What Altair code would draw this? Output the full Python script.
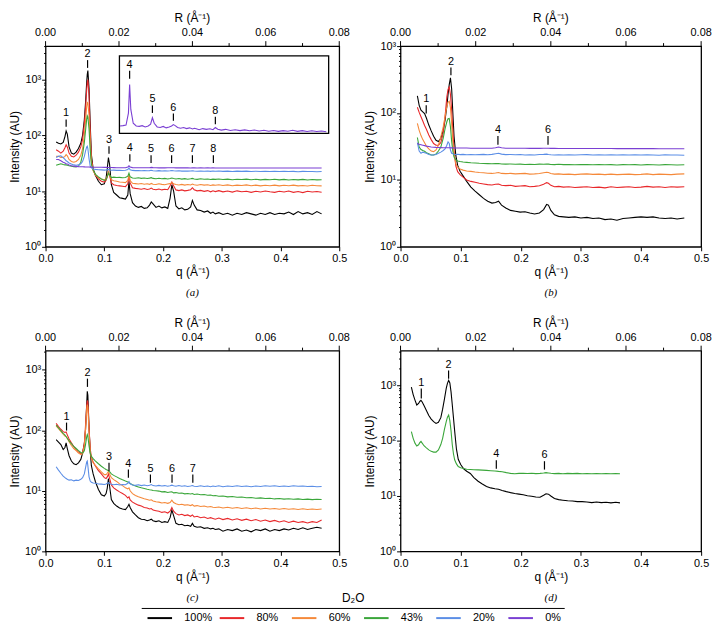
import math
import altair as alt
import pandas as pd

# ---------------------------------------------------------------- categories / style
SERIES = ["100%", "80%", "60%", "43%", "20%", "0%"]
COLORS = ["#000000", "#e8282b", "#f5893a", "#3aa63a", "#5b8ee6", "#7a3fd3"]

Q_TICKS = [0.0, 0.1, 0.2, 0.3, 0.4, 0.5]
R_TICKS = [0.0, 0.01, 0.02, 0.03, 0.04, 0.05, 0.06, 0.07, 0.08]
Y_TICKS = [1, 2, 3, 4, 5, 6, 7, 8, 9, 10, 20, 30, 40, 50, 60, 70, 80, 90,
           100, 200, 300, 400, 500, 600, 700, 800, 900, 1000, 2000, 3000, 4000]

# ---------------------------------------------------------------- panels (a) and (c): q grid
q_ac = [0.018, 0.022, 0.026, 0.030, 0.033, 0.035, 0.037, 0.040, 0.044, 0.048,
        0.052, 0.056, 0.060, 0.063, 0.066, 0.068, 0.070, 0.071, 0.072, 0.074,
        0.076, 0.078, 0.081, 0.085, 0.090, 0.095, 0.100, 0.103, 0.105, 0.107,
        0.109, 0.112, 0.116, 0.121, 0.126, 0.131, 0.136, 0.140, 0.142, 0.144,
        0.148, 0.153, 0.158, 0.163, 0.168, 0.173, 0.177, 0.180, 0.183, 0.188,
        0.193, 0.198, 0.203, 0.208, 0.212, 0.215, 0.218, 0.222, 0.227, 0.232,
        0.237, 0.242, 0.247, 0.250, 0.253, 0.258, 0.264, 0.270, 0.276, 0.281,
        0.285, 0.289, 0.295, 0.302, 0.310, 0.318, 0.326, 0.334, 0.342, 0.350,
        0.358, 0.366, 0.374, 0.382, 0.390, 0.398, 0.406, 0.414, 0.422, 0.430,
        0.438, 0.446, 0.454, 0.462, 0.470]

a_100 = [76, 72, 70, 75, 95, 120, 105, 62, 48, 46,
         50, 58, 72, 100, 190, 380, 900, 1250, 1450, 700,
         160, 45, 25, 19, 15, 13, 13.5, 17, 25, 40,
         30, 13, 9.5, 8.5, 7.6, 7.4, 7.2, 8.5, 15, 9,
         6.2, 5.4, 5.1, 5.3, 4.9, 5.0, 5.6, 6.4, 5.9, 5.1,
         5.4, 5.0, 5.2, 4.9, 7.5, 13, 10, 5.4, 4.8, 5.0,
         4.6, 4.7, 5.2, 6.8, 5.6, 4.6, 4.5, 4.2, 4.4, 4.0,
         4.2, 3.9, 4.1, 3.8, 4.0, 3.7, 4.0, 3.8, 4.1, 3.9,
         3.7, 4.0, 3.8, 4.1, 3.8, 4.0, 3.9, 4.2, 3.8, 4.3,
         3.9, 4.1, 3.8, 4.3, 3.9]
a_80 = [55, 52, 48, 52, 60, 68, 62, 48, 42, 41,
        44, 50, 62, 85, 160, 310, 650, 900, 1000, 520,
        120, 38, 24, 19, 16.5, 15, 14.5, 15.5, 18, 22,
        19, 14, 13, 12.6, 12.4, 12.2, 12.0, 13.5, 19, 14,
        11.5, 11.2, 11.0, 10.8, 11.1, 10.7, 10.9, 11.3, 10.8, 10.6,
        10.9, 10.5, 10.8, 10.6, 12.5, 14.5, 12.5, 10.5, 10.2, 10.5,
        10.1, 10.3, 10.6, 11.5, 10.6, 10.1, 10.3, 9.9, 10.2, 9.7,
        10.1, 9.8, 10.2, 9.7, 10.0, 9.6, 10.1, 9.7, 9.9, 9.5,
        9.9, 9.6, 10.0, 9.7, 9.5, 9.9, 9.6, 10.0, 9.5, 9.8,
        9.4, 9.9, 9.6, 9.8, 9.5]
a_60 = [42, 42, 40, 40, 42, 45, 43, 37, 34, 33,
        34, 37, 44, 58, 100, 180, 330, 390, 380, 230,
        75, 34, 23, 19.5, 17.5, 16.5, 16, 16.5, 18.5, 22,
        19.5, 16, 15.3, 15, 14.6, 14.4, 14.2, 15.5, 20, 15.5,
        13.8, 13.6, 13.4, 13.7, 13.3, 13.5, 13.2, 13.7, 13.3, 13.1,
        13.5, 13.2, 13.0, 13.4, 13.6, 14.2, 13.5, 13.1, 12.9, 13.2,
        12.8, 13.1, 12.9, 13.4, 13.0, 12.7, 13.1, 12.8, 13.0, 12.6,
        12.9, 12.7, 13.0, 12.6, 12.9, 12.5, 12.8, 12.6, 12.9, 12.5,
        12.8, 12.4, 12.7, 12.5, 12.8, 12.4, 12.7, 12.5, 12.8, 12.4,
        12.6, 12.3, 12.7, 12.5, 12.4]
a_43 = [29, 30, 31, 30, 29.5, 29.5, 29, 28.5, 28, 27.5,
        27, 28, 33, 45, 75, 120, 195, 225, 215, 130,
        55, 30, 24, 20, 18, 16.5, 15.5, 16, 18, 21,
        19.5, 17.5, 17.8, 17.5, 17.6, 17.3, 17.5, 18.5, 21, 18,
        17.2, 17.0, 17.3, 16.9, 17.2, 16.8, 17.1, 17.4, 16.9, 16.7,
        17.0, 16.6, 16.9, 16.5, 16.8, 17.2, 16.8, 16.5, 16.8, 16.4,
        16.7, 16.3, 16.6, 16.9, 16.5, 16.2, 16.6, 16.3, 16.5, 16.1,
        16.4, 16.2, 16.5, 16.1, 16.4, 16.0, 16.3, 16.1, 16.4, 16.0,
        16.3, 15.9, 16.2, 16.0, 16.3, 15.9, 16.2, 15.8, 16.1, 15.9,
        16.2, 15.8, 16.1, 15.9, 16.0]
a_20 = [40, 42, 43, 40, 37, 35, 34, 32, 30.5, 29.5,
        29, 29.5, 31, 34, 42, 52, 62, 64, 58, 38,
        28, 26, 25, 24.5, 24.2, 24, 23.8, 23.9, 24.2, 24.5,
        24.1, 23.7, 23.8, 23.5, 23.7, 23.4, 23.6, 24.3, 26, 24.2,
        23.5, 23.3, 23.4, 23.2, 23.4, 23.1, 23.3, 23.6, 23.2, 23.0,
        23.3, 23.0, 23.2, 22.9, 23.1, 23.4, 23.1, 22.9, 23.1, 22.8,
        23.0, 22.8, 23.0, 23.2, 22.9, 22.7, 23.0, 22.7, 22.9, 22.6,
        22.9, 22.7, 22.9, 22.6, 22.8, 22.5, 22.8, 22.6, 22.8, 22.5,
        22.7, 22.4, 22.7, 22.5, 22.7, 22.4, 22.6, 22.4, 22.6, 22.3,
        22.6, 22.4, 22.5, 22.3, 22.4]
a_0 = [37, 37, 35, 33, 32, 31, 30.5, 29.5, 28.5, 28,
       27.8, 27.5, 27.4, 27.3, 27.2, 27.1, 27.1, 27.0, 27.0, 27.0,
       26.9, 26.9, 26.8, 26.8, 26.7, 26.7, 26.6, 26.6, 26.6, 26.5,
       26.5, 26.45, 26.35, 26.25, 26.2, 26.22, 26.25, 26.9, 28.45, 27.1,
       26.35, 26.2, 26.18, 26.22, 26.15, 26.2, 26.3, 26.65, 26.35, 26.15,
       26.12, 26.18, 26.1, 26.15, 26.2, 26.28, 26.22, 26.12, 26.08, 26.12,
       26.06, 26.1, 26.04, 26.08, 26.05, 26.0, 26.06, 26.02, 26.05, 26.0,
       26.12, 26.03, 25.98, 26.02, 25.96, 26.0, 25.95, 25.99, 25.94, 25.98,
       25.93, 25.97, 25.92, 25.96, 25.91, 25.95, 25.92, 25.97, 25.91, 25.95,
       25.9, 25.94, 25.9, 25.93, 25.89]

c_100 = [70, 64, 58, 48, 52, 62, 50, 38, 31, 28,
         27, 29, 33, 42, 60, 100, 270, 440, 380, 110,
         45, 26, 19, 14, 10.5, 8.6, 8.2, 9, 11, 16,
         12, 7.2, 6.2, 5.6, 5.2, 5.0, 4.9, 5.5, 6.0, 5.3,
         4.5, 4.0, 3.6, 3.4, 3.35, 3.2, 3.3, 3.4, 3.2, 3.1,
         3.2, 3.0, 3.1, 3.0, 3.6, 4.8, 3.9, 2.9, 2.75, 2.8,
         2.65, 2.7, 2.6, 2.9, 2.6, 2.5, 2.55, 2.4, 2.45, 2.35,
         2.4, 2.3, 2.35, 2.15, 2.3, 2.2, 2.35, 2.15, 2.25, 2.1,
         2.3, 2.2, 2.35, 2.15, 2.3, 2.2, 2.35, 2.25, 2.4, 2.3,
         2.45, 2.3, 2.4, 2.5, 2.4]
c_80 = [130, 115, 104, 95, 92, 94, 84, 72, 62, 54,
        48, 44, 41, 42, 60, 120, 250, 310, 290, 110,
        50, 36, 30, 25.5, 21.5, 19, 16.5, 16, 17, 19,
        16, 12.5, 11.2, 10.3, 9.6, 9.0, 8.4, 7.6, 8.0, 7.1,
        6.5, 6.1, 5.8, 5.6, 5.3, 5.2, 5.0, 5.1, 4.8, 4.7,
        4.6, 4.4, 4.5, 4.3, 4.6, 5.3, 4.6, 4.2, 4.0, 4.1,
        3.9, 4.0, 3.8, 4.0, 3.7, 3.8, 3.6, 3.7, 3.5, 3.6,
        3.5, 3.4, 3.55, 3.35, 3.5, 3.3, 3.45, 3.25, 3.4, 3.2,
        3.35, 3.15, 3.3, 3.1, 3.25, 3.05, 3.2, 3.0, 3.15, 3.0,
        3.1, 2.95, 3.1, 3.0, 3.3]
c_60 = [118, 106, 96, 86, 80, 78, 73, 65, 56, 50,
        46, 42, 40, 41, 55, 100, 210, 265, 240, 95,
        45, 34, 29, 26, 23, 20.5, 18.5, 18.5, 19.5, 21,
        19, 16.5, 15.3, 14.3, 13.0, 12.2, 11.2, 10.8, 11.2, 10.0,
        9.0, 8.4, 8.0, 7.7, 7.4, 7.2, 7.0, 7.1, 6.8, 6.6,
        6.5, 6.3, 6.4, 6.2, 6.4, 7.0, 6.4, 6.1, 5.9, 6.0,
        5.8, 5.9, 5.7, 5.9, 5.6, 5.7, 5.5, 5.6, 5.4, 5.5,
        5.35, 5.3, 5.4, 5.2, 5.35, 5.15, 5.3, 5.1, 5.25, 5.05,
        5.2, 5.0, 5.15, 5.0, 5.1, 4.95, 5.1, 4.95, 5.05, 4.9,
        5.05, 4.9, 5.0, 4.9, 5.0]
c_43 = [122, 110, 99, 89, 83, 79, 74, 67, 60, 54,
        50, 46, 43, 42, 46, 58, 78, 85, 80, 55,
        42, 37, 34, 31, 28, 25.5, 23.5, 22.5, 22, 21.5,
        20.8, 19.0, 18.0, 17.0, 16.0, 15.2, 14.5, 14.0, 13.6, 13.2,
        12.6, 12.0, 11.6, 11.2, 10.9, 10.6, 10.4, 10.3, 10.1, 10.0,
        9.9, 9.6, 9.7, 9.4, 9.55, 9.6, 9.25, 9.35, 9.1, 9.2,
        8.9, 9.05, 8.85, 9.0, 8.7, 8.85, 8.6, 8.7, 8.45, 8.5,
        8.3, 8.35, 8.15, 8.2, 7.95, 8.05, 7.85, 7.9, 7.7, 7.75,
        7.55, 7.65, 7.45, 7.55, 7.35, 7.45, 7.3, 7.4, 7.25, 7.35,
        7.2, 7.3, 7.15, 7.25, 7.2]
c_20 = [25, 22, 19.5, 17.5, 16.5, 16, 15.5, 15, 15.2, 14.6,
        15, 14.8, 15.5, 16.5, 19, 24, 30, 31, 26, 17,
        14.5, 13.8, 13.5, 13.3, 13.0, 12.9, 12.7, 13.0, 13.3, 13.6,
        13.2, 12.8, 12.6, 12.8, 12.5, 12.7, 12.6, 13.3, 14.2, 13.1,
        12.5, 12.3, 12.6, 12.2, 12.5, 12.1, 12.4, 12.7, 12.2, 12.0,
        12.3, 12.0, 12.2, 11.9, 12.1, 12.4, 12.1, 11.9, 12.2, 11.9,
        12.1, 11.8, 12.0, 12.2, 11.9, 11.8, 12.1, 11.8, 12.0, 11.7,
        12.0, 11.8, 12.1, 11.7, 12.0, 11.8, 12.1, 11.8, 12.0, 11.7,
        12.0, 11.8, 12.1, 11.9, 12.1, 11.8, 12.0, 11.8, 12.1, 11.9,
        12.0, 11.8, 11.9, 11.7, 11.8]

# ---------------------------------------------------------------- panel (b)
q_b = [0.028, 0.031, 0.034, 0.037, 0.040, 0.043, 0.047, 0.051, 0.055, 0.059,
       0.063, 0.067, 0.071, 0.074, 0.077, 0.079, 0.081, 0.083, 0.085, 0.087,
       0.089, 0.092, 0.095, 0.099, 0.104, 0.110, 0.117, 0.124, 0.131, 0.138,
       0.145, 0.152, 0.158, 0.163, 0.168, 0.175, 0.183, 0.191, 0.199, 0.207,
       0.215, 0.223, 0.231, 0.238, 0.243, 0.246, 0.250, 0.256, 0.263, 0.271,
       0.280, 0.290, 0.300, 0.310, 0.320, 0.330, 0.340, 0.350, 0.360, 0.370,
       0.380, 0.390, 0.400, 0.410, 0.420, 0.430, 0.440, 0.450, 0.460, 0.472]
b_100 = [180, 130, 110, 104, 98, 84, 66, 54, 45, 39,
         37.5, 42, 55, 78, 125, 190, 265, 335, 230, 100,
         45, 23, 16.5, 13.5, 11.5, 9.5, 7.8, 6.8, 6.0, 5.3,
         4.8, 4.5, 4.6, 4.8, 4.2, 3.8, 3.5, 3.4, 3.3, 3.35,
         3.2, 3.1, 3.2, 3.6, 4.3, 4.2, 3.5, 3.0, 2.85, 2.8,
         2.75, 2.8, 2.7, 2.75, 2.65, 2.7, 2.55, 2.6, 2.5, 2.65,
         2.7, 2.75, 2.8, 2.75, 2.8, 2.7, 2.65, 2.7, 2.6, 2.7]
b_80 = [122, 102, 88, 76, 65, 57, 47, 40, 35, 33,
        33, 36, 50, 88, 175, 225, 245, 190, 110, 55,
        27, 16, 13.3, 12, 11, 10, 9.5, 9.2, 8.9, 8.7,
        8.5, 8.4, 8.6, 8.7, 8.3, 8.2, 8.3, 8.0, 8.1, 8.2,
        7.9, 8.0, 8.2, 8.6, 9.1, 8.9, 8.3, 7.9, 8.0, 7.8,
        7.9, 7.7, 7.8, 7.9, 7.7, 7.8, 7.6, 7.9, 7.7, 7.8,
        7.9, 7.7, 7.8, 8.0, 7.8, 7.9, 7.7, 7.9, 7.8, 7.9]
b_60 = [70, 55, 46, 40, 36, 32, 29, 27, 26.5, 28,
        33, 44, 62, 88, 125, 145, 150, 120, 70, 38,
        24, 17.5, 15.5, 14.5, 14, 13.6, 13.4, 13.1, 12.9, 12.8,
        12.6, 12.5, 12.7, 12.9, 12.5, 12.4, 12.5, 12.3, 12.4, 12.5,
        12.2, 12.3, 12.5, 12.8, 13.0, 12.9, 12.5, 12.2, 12.3, 12.1,
        12.2, 12.0, 12.2, 12.3, 12.1, 12.2, 12.0, 12.2, 12.0, 12.1,
        12.2, 12.0, 12.1, 12.3, 12.0, 12.2, 12.1, 12.0, 12.2, 12.3]
b_43 = [43, 31, 28.5, 27.5, 26.8, 25.5, 24.5, 23.5, 23.5, 24.5,
        27, 31, 42, 58, 74, 82, 83, 62, 38, 27,
        22, 20, 19.2, 18.8, 18.5, 18.3, 18.0, 17.9, 17.7, 17.6,
        17.5, 17.4, 17.5, 17.6, 17.3, 17.2, 17.3, 17.1, 17.2, 17.0,
        17.1, 17.0, 17.2, 17.1, 17.3, 17.2, 17.0, 16.9, 17.1, 16.9,
        17.0, 16.8, 17.0, 16.9, 16.8, 17.0, 16.8, 16.9, 16.7, 16.9,
        16.8, 16.9, 16.7, 16.9, 16.8, 16.7, 16.9, 16.8, 16.7, 16.8]
b_20 = [36, 27, 25, 26, 25.5, 25, 24, 23.5, 23.5, 24,
        25, 26, 27.5, 29, 33, 37, 35, 28, 25, 24.5,
        24.2, 24, 24.2, 23.9, 24.1, 23.8, 24.0, 23.7, 23.9, 24.1,
        23.8, 24.1, 24.6, 25.0, 24.3, 23.9, 24.0, 23.7, 23.9, 23.6,
        23.8, 23.6, 23.9, 24.1, 24.3, 24.0, 23.7, 23.5, 23.8, 23.6,
        23.8, 23.5, 23.7, 23.9, 23.6, 23.8, 23.5, 23.7, 23.5, 23.8,
        23.6, 23.8, 23.5, 23.7, 23.6, 23.4, 23.7, 23.5, 23.6, 23.4]
b_0 = [35, 34, 33.5, 33, 32.5, 32, 31.5, 31, 30.8, 30.6,
       30.5, 30.4, 30.3, 30.3, 30.2, 30.2, 30.2, 30.1, 30.1, 30.1,
       30.0, 30.0, 30.0, 29.9, 29.9, 29.9, 29.8, 29.8, 29.8, 29.8,
       29.8, 29.8, 30.3, 31.0, 30.2, 29.8, 29.7, 29.7, 29.7, 29.7,
       29.6, 29.6, 29.6, 29.7, 29.8, 29.7, 29.6, 29.6, 29.5, 29.5,
       29.5, 29.5, 29.5, 29.4, 29.4, 29.4, 29.4, 29.4, 29.3, 29.3,
       29.3, 29.3, 29.3, 29.3, 29.3, 29.2, 29.2, 29.2, 29.2, 29.2]

# ---------------------------------------------------------------- panel (d)
q_d = [0.018, 0.021, 0.024, 0.027, 0.030, 0.032, 0.034, 0.036, 0.039, 0.043,
       0.047, 0.051, 0.055, 0.059, 0.063, 0.067, 0.070, 0.073, 0.076, 0.078,
       0.080, 0.082, 0.084, 0.086, 0.088, 0.090, 0.093, 0.096, 0.100, 0.105,
       0.110, 0.116, 0.122, 0.129, 0.136, 0.143, 0.150, 0.157, 0.163, 0.169,
       0.176, 0.183, 0.190, 0.197, 0.204, 0.211, 0.218, 0.225, 0.232, 0.238,
       0.242, 0.246, 0.250, 0.256, 0.263, 0.270, 0.278, 0.286, 0.294, 0.302,
       0.310, 0.318, 0.326, 0.334, 0.342, 0.350, 0.358, 0.365]
d_100 = [930, 680, 540, 440, 470, 510, 535, 500, 430, 350,
         285, 245, 220, 205, 215, 260, 370, 560, 880, 1080,
         1230, 1100, 760, 450, 260, 150, 70, 46, 37, 31,
         28, 25.5, 21.5, 18.5, 16.5, 14.8, 14.0, 13.5, 13.2, 12.6,
         12.0, 11.5, 11.1, 10.8, 10.5, 10.1, 9.9, 9.6, 9.5, 10.3,
         11.0, 10.8, 10.0, 9.0, 8.6, 8.4, 8.2, 8.1, 7.9, 7.9,
         7.8, 7.6, 7.8, 7.6, 7.7, 7.5, 7.7, 7.5]
d_43 = [146, 110, 90, 80, 84, 92, 97, 90, 81, 74,
        68, 64, 62, 62, 68, 85, 110, 160, 220, 265,
        290, 230, 150, 85, 58, 45, 38, 34, 32.5, 31.3,
        30.5, 30.2, 29.8, 29.6, 29.3, 29.0, 28.6, 28.3, 27.8, 27.5,
        26.4, 25.6, 25.3, 25.6, 25.8, 25.5, 25.7, 25.4, 25.6, 26.0,
        26.4, 26.1, 25.7, 25.4, 25.6, 25.3, 25.6, 25.4, 25.6, 25.3,
        25.5, 25.3, 25.5, 25.2, 25.4, 25.2, 25.4, 25.3]

# ---------------------------------------------------------------- peak markers (index, q, tick bottom, tick top)
ann_a_lab = ["1", "2", "3", "4", "5", "6", "7", "8"]
ann_a_q = [0.035, 0.0715, 0.108, 0.1435, 0.1796, 0.2146, 0.250, 0.2857]
ann_a_lo = [143, 1625, 47, 34, 32, 32, 32, 32]
ann_a_hi = [193, 2240, 64, 46, 44, 44, 44, 44]

ann_b_lab = ["1", "2", "4", "6"]
ann_b_q = [0.0427, 0.0838, 0.162, 0.2453]
ann_b_lo = [98, 368, 33.4, 33.4]
ann_b_hi = [130, 479, 45.3, 45.3]

ann_c_lab = ["1", "2", "3", "4", "5", "6", "7"]
ann_c_q = [0.0357, 0.0713, 0.108, 0.141, 0.1785, 0.2153, 0.2507]
ann_c_lo = [99, 521, 21.2, 16.4, 13.6, 13.6, 13.6]
ann_c_hi = [134, 713, 29, 22.5, 18.6, 18.6, 18.6]

ann_d_lab = ["1", "2", "4", "6"]
ann_d_q = [0.0345, 0.0799, 0.1593, 0.2394]
ann_d_lo = [575, 1313, 31, 30]
ann_d_hi = [870, 1850, 44, 42.5]

# inset of panel (a): 0% D2O, zoomed (its own q / linear-intensity window)
INSET_Q = [0.125, 0.474]
INSET_I = [25.8, 30.0]
ann_in_lab = ["4", "5", "6", "8"]
ann_in_q = [0.142, 0.180, 0.215, 0.285]
ann_in_lo = [28.76, 26.91, 26.48, 26.3]
ann_in_hi = [29.2, 27.32, 26.88, 26.7]

# ---------------------------------------------------------------- layout constants (pixels)
FONT = "Liberation Sans"
PAGE_LEFT = 47.0             # page x of the left plot edge (set by the y-axis extent)
W_L = 297
W_R = 304
H = 203
HSPACE = 62
VSPACE = 17
TOP_LABEL_PX = -13           # R tick labels, px above the frame
TOP_TITLE_PX = -28           # R title, px above the frame
CAPTION_PX = H + 47          # panel caption, px below the frame top
INSET_PX_X = [121.7 - PAGE_LEFT, 333.3 - PAGE_LEFT]   # inset box, px from panel (a) left edge
INSET_PX_Y = [10.0, 88.3]                             # inset box, px from panel (a) top edge
PAGE_TOP_C = 349.0           # page y of panel (c) plot top
LEG_X0 = 162.5               # page x of first legend swatch centre
LEG_STEP = 73.0              # px between legend entries
LEG_Y_ITEMS = 619.5          # page y of legend entries
LEG_Y_TITLE = 599.0          # page y of legend title
Q_MAX = 0.5
R_MAX = 0.08


def long_df(q, series):
    rows = []
    for name, vals in series:
        assert len(vals) == len(q), (name, len(vals), len(q))
        for qq, v in zip(q, vals):
            rows.append({"q": qq, "I": v, "D2O": name})
    return pd.DataFrame(rows)


class Frame:
    """Maps pixel offsets of a panel onto its own (linear q, log I) scales."""

    def __init__(self, width, ymax):
        self.w = width
        self.L = math.log10(ymax)

    def qx(self, px):
        return Q_MAX * px / self.w

    def iy(self, py):
        return 10 ** (self.L * (1 - py / H))


QSCALE = alt.Scale(domain=[0, Q_MAX], nice=False, zero=False)
XAXIS = alt.Axis(values=Q_TICKS, format=".1f", title="q (\u00c5\u207b\u00b9)",
                 labelFlush=False, tickSize=4, labelPadding=2, titlePadding=3)
COLOR = alt.Color("D2O:N", scale=alt.Scale(domain=SERIES, range=COLORS), legend=None)
MAJ = "indexof([1,10,100,1000], datum.value)"
SUP = "['\u2070','\u00b9','\u00b2','\u00b3']"


def encs(ymax):
    yt = [v for v in Y_TICKS if v <= ymax]
    ysc = alt.Scale(type="log", domain=[1, ymax], nice=False)
    yax = alt.Axis(values=yt, labelOverlap=False, title="Intensity (AU)",
                   labelExpr=f"{MAJ} < 0 ? '' : '10' + {SUP}[{MAJ}]",
                   tickSize={"condition": {"test": f"{MAJ} < 0", "value": 2}, "value": 4},
                   labelPadding=1, titlePadding=3)

    def X(f):
        return alt.X(f"{f}:Q", scale=QSCALE, axis=XAXIS)

    def Y(f):
        return alt.Y(f"{f}:Q", scale=ysc, axis=yax)
    return X, Y


def text(df, X, Y, **kw):
    base = dict(font=FONT, fontSize=11, color="black")
    base.update(kw)
    return alt.Chart(df).mark_text(**base).encode(x=X("x"), y=Y("y"), text="t:N")


def panel(q, series, ymax, ann, caption, width, inset=None, legend=False):
    X, Y = encs(ymax)
    fr = Frame(width, ymax)
    layers = []
    df = long_df(q, series)
    layers.append(alt.Chart(df).mark_line(strokeWidth=1.1, clip=True).encode(x=X("q"), y=Y("I"), color=COLOR))

    lab, aq, lo, hi = ann
    adf = pd.DataFrame({"t": lab, "x": aq, "lo": lo, "y": hi})
    layers.append(alt.Chart(adf).mark_rule(color="black", strokeWidth=1.2).encode(x=X("x"), y=Y("lo"), y2="y:Q"))
    layers.append(text(adf, X, Y, baseline="bottom", dy=-1))

    # top R axis, drawn from the R tick values through the q scale (R = q * R_MAX / Q_MAX)
    rdf = pd.DataFrame({"R": R_TICKS})
    rdf["x"] = rdf.R * Q_MAX / R_MAX
    rdf["major"] = [round(r * 100) % 2 == 0 for r in R_TICKS]
    rdf["y"] = fr.iy(0)
    rdf["y2"] = [fr.iy(-5 if m else -3) for m in rdf.major]
    layers.append(alt.Chart(rdf).mark_rule(color="black", strokeWidth=1).encode(x=X("x"), y=Y("y"), y2="y2:Q"))
    mdf = rdf[rdf.major].copy()
    mdf["t"] = [f"{r:.2f}" for r in mdf.R]
    mdf["y"] = fr.iy(TOP_LABEL_PX)
    layers.append(text(mdf, X, Y, baseline="middle", align="center"))
    tdf = pd.DataFrame({"x": [Q_MAX / 2], "y": [fr.iy(TOP_TITLE_PX)], "t": ["R (\u00c5\u207b\u00b9)"]})
    layers.append(text(tdf, X, Y, baseline="middle", align="center", fontSize=12))
    cdf = pd.DataFrame({"x": [Q_MAX / 2], "y": [fr.iy(CAPTION_PX)], "t": [caption]})
    layers.append(text(cdf, X, Y, baseline="middle", align="center", font="Liberation Serif",
                       fontStyle="italic"))

    if inset is not None:
        iq, iv = inset

        def ix(v):
            return fr.qx(INSET_PX_X[0] + (v - INSET_Q[0]) / (INSET_Q[1] - INSET_Q[0]) * (INSET_PX_X[1] - INSET_PX_X[0]))

        def iyv(v):
            return fr.iy(INSET_PX_Y[1] - (v - INSET_I[0]) / (INSET_I[1] - INSET_I[0]) * (INSET_PX_Y[1] - INSET_PX_Y[0]))
        bdf = pd.DataFrame({"x": [ix(INSET_Q[0])], "x2": [ix(INSET_Q[1])],
                            "y": [iyv(INSET_I[0])], "y2": [iyv(INSET_I[1])]})
        layers.append(alt.Chart(bdf).mark_rect(fill="white", stroke="black", strokeWidth=1.3).encode(
            x=X("x"), x2="x2:Q", y=Y("y"), y2="y2:Q"))
        ldf = pd.DataFrame({"q": iq, "v": iv})
        ldf = ldf[ldf.q >= INSET_Q[0]]
        ldf = pd.DataFrame({"x": [ix(a) for a in ldf.q], "y": [iyv(b) for b in ldf.v]})
        layers.append(alt.Chart(ldf).mark_line(color=COLORS[5], strokeWidth=1.1).encode(x=X("x"), y=Y("y")))
        idf = pd.DataFrame({"t": ann_in_lab, "x": [ix(a) for a in ann_in_q],
                            "lo": [iyv(b) for b in ann_in_lo], "y": [iyv(b) for b in ann_in_hi]})
        layers.append(alt.Chart(idf).mark_rule(color="black", strokeWidth=1.2).encode(x=X("x"), y=Y("lo"), y2="y:Q"))
        layers.append(text(idf, X, Y, baseline="bottom", dy=-1))

    if legend:
        def lx(i):
            return fr.qx(LEG_X0 - PAGE_LEFT + LEG_STEP * i)
        y_items = fr.iy(LEG_Y_ITEMS - PAGE_TOP_C)
        y_sep = fr.iy((LEG_Y_ITEMS + LEG_Y_TITLE) / 2 + 0.5 - PAGE_TOP_C)
        y_title = fr.iy(LEG_Y_TITLE - PAGE_TOP_C)
        idx = list(range(len(SERIES)))
        sw = pd.DataFrame({"D2O": SERIES, "x": [lx(i - 0.17) for i in idx], "x2": [lx(i + 0.17) for i in idx],
                           "y": y_items})
        layers.append(alt.Chart(sw).mark_rule(strokeWidth=2).encode(x=X("x"), x2="x2:Q", y=Y("y"), color=COLOR))
        tx = pd.DataFrame({"t": SERIES, "x": [lx(i + 0.34) for i in idx], "y": y_items})
        layers.append(text(tx, X, Y, baseline="middle", align="left"))
        sep_lo, sep_hi = -0.25, idx[-1] + 0.61
        sp = pd.DataFrame({"x": [lx(sep_lo)], "x2": [lx(sep_hi)], "y": [y_sep]})
        layers.append(alt.Chart(sp).mark_rule(color="black", strokeWidth=1).encode(x=X("x"), x2="x2:Q", y=Y("y")))
        tt = pd.DataFrame({"t": ["D\u2082O"], "x": [lx((sep_lo + sep_hi) / 2)], "y": [y_title]})
        layers.append(text(tt, X, Y, baseline="middle", align="center", fontSize=12))

    return alt.layer(*layers).properties(width=width, height=H)


pa = panel(q_ac, list(zip(SERIES, [a_100, a_80, a_60, a_43, a_20, a_0])), 4000,
           (ann_a_lab, ann_a_q, ann_a_lo, ann_a_hi), "(a)", W_L, inset=(q_ac, a_0))
pb = panel(q_b, list(zip(SERIES, [b_100, b_80, b_60, b_43, b_20, b_0])), 1000,
           (ann_b_lab, ann_b_q, ann_b_lo, ann_b_hi), "(b)", W_R)
pc = panel(q_ac, list(zip(SERIES[:5], [c_100, c_80, c_60, c_43, c_20])), 2070,
           (ann_c_lab, ann_c_q, ann_c_lo, ann_c_hi), "(c)", W_L, legend=True)
pd_ = panel(q_d, [("100%", d_100), ("43%", d_43)], 4225,
            (ann_d_lab, ann_d_q, ann_d_lo, ann_d_hi), "(d)", W_R)

row1 = alt.hconcat(pa, pb, spacing=HSPACE, bounds="flush")
row2 = alt.hconcat(pc, pd_, spacing=HSPACE, bounds="flush")
chart = alt.vconcat(row1, row2, spacing=VSPACE).properties(padding=0).configure(
    font=FONT).configure_axis(
    labelFont=FONT, titleFont=FONT, labelFontSize=11, titleFontSize=12, titleFontWeight="normal",
    labelColor="black", titleColor="black", tickColor="black", tickWidth=1, domain=False, grid=False,
).configure_view(stroke="black", strokeWidth=1.3)

chart.save("out.html", embed_options={"renderer": "svg", "actions": False})
